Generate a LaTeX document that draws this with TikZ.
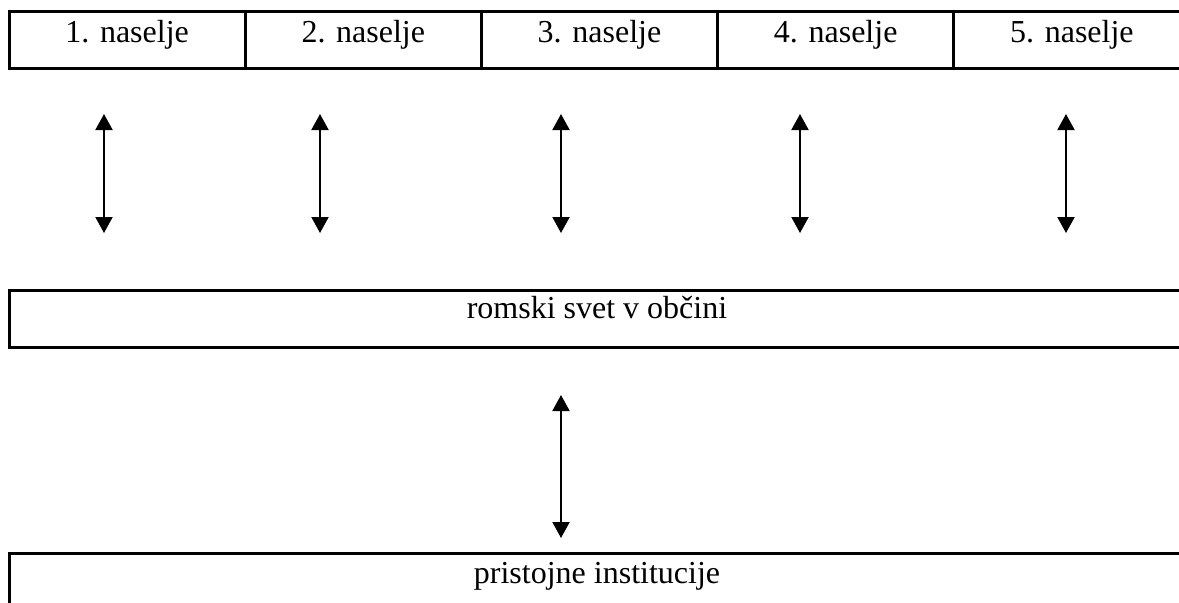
\documentclass[tikz,border=0pt]{standalone}
\usepackage{fontspec}
\setmainfont{Liberation Serif}
\usetikzlibrary{positioning,arrows.meta}
\begin{document}
\begin{tikzpicture}[x=0.5pt, y=-0.5pt, font=\fontsize{16}{19}\selectfont, line join=miter]
			\tikzset{cell/.style={draw=black,line width=1.5pt,rectangle,inner sep=0pt,outer sep=0pt,minimum width=118.1pt,text height=15.5pt,text depth=13pt},
				band/.style={draw=black,line width=1.5pt,rectangle,inner sep=0pt,outer sep=0pt,minimum width=588pt},
				dbl/.style={{Triangle[length=8pt,width=8.5pt]}-{Triangle[length=8pt,width=8.5pt]},line width=1pt}}
			\useasboundingbox (0,0) rectangle (1179,602);
			\path(9,11)node[cell,anchor=north west](n1){1. naselje};
			\node[cell,right=0pt of n1](n2){2. naselje};
			\node[cell,right=0pt of n2](n3){3. naselje};
			\node[cell,right=0pt of n3](n4){4. naselje};
			\node[cell,right=0pt of n4](n5){5. naselje};
			\path(9,290)node[band,anchor=north west,text height=14pt,text depth=14.5pt](svet){romski svet v občini};
			\path(9,553)node[band,anchor=north west,text height=15pt,text depth=20pt](inst){pristojne institucije};
			\foreach \i/\x in {1/104,2/320,3/561,4/800,5/1066}{
				\coordinate(u\i) at (\x,114);
				\coordinate(d\i) at (\x,233);
				\draw[dbl](u\i)--(d\i);}
			\coordinate(su) at (561,395);
			\coordinate(sd) at (561,538);
			\draw[dbl](su)--(sd);
		\end{tikzpicture}
\end{document}
